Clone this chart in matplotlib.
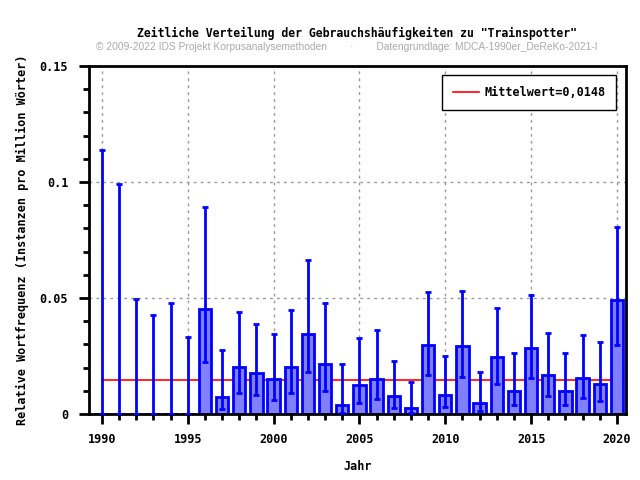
import numpy as np
import matplotlib
matplotlib.use('Agg')
import matplotlib.pyplot as plt
from matplotlib.ticker import MultipleLocator

# Daten
jahre = list(range(1990, 2021))
werte = [0, 0, 0, 0, 0, 0,
         0.0451, 0.0075, 0.0201, 0.0178, 0.0149,
         0.0204, 0.0346, 0.0217, 0.0040, 0.0126,
         0.0152, 0.0079, 0.0027, 0.0299, 0.0083,
         0.0294, 0.0049, 0.0247, 0.0101, 0.0286,
         0.0170, 0.0101, 0.0157, 0.0131, 0.0493]
unten = [0, 0, 0, 0, 0, 0,
         0.0226, 0.0023, 0.0092, 0.0080, 0.0062,
         0.0092, 0.0182, 0.0101, 0.0006, 0.0049,
         0.0066, 0.0027, 0.0004, 0.0169, 0.0032,
         0.0161, 0.0014, 0.0131, 0.0040, 0.0157,
         0.0079, 0.0040, 0.0069, 0.0056, 0.0297]
oben = [0.1138, 0.0991, 0.0497, 0.0428, 0.0480, 0.0333,
        0.0894, 0.0276, 0.0441, 0.0388, 0.0345,
        0.0448, 0.0664, 0.0480, 0.0216, 0.0328,
        0.0362, 0.0228, 0.0138, 0.0526, 0.0250,
        0.0532, 0.0181, 0.0457, 0.0263, 0.0513,
        0.0349, 0.0263, 0.0341, 0.0310, 0.0806]
mittelwert = 0.0148

fig = plt.figure(figsize=(6.4, 4.8), dpi=100)
ax = fig.add_axes([0.139, 0.1375, 0.839, 0.725])

mono = 'DejaVu Sans Mono'

ax.bar(jahre, werte, width=0.72, color='#8080ff', edgecolor='#0000ff', linewidth=2, zorder=2)
w = np.array(werte)
fehler = [w - np.array(unten), np.array(oben) - w]
ax.errorbar(jahre, werte, yerr=fehler, fmt='none', ecolor='#0000ff', elinewidth=2,
            capsize=2.5, capthick=2, zorder=3)

ax.plot([jahre[0], jahre[-1]], [mittelwert, mittelwert], color='red', linewidth=1.2,
        zorder=1, label='Mittelwert=' + ('%.4f' % mittelwert).replace('.', ','))

ax.set_xlim(1989.25, 2020.52)
ax.set_ylim(0, 0.15)
ax.xaxis.set_major_locator(MultipleLocator(5))
ax.xaxis.set_minor_locator(MultipleLocator(1))
ax.yaxis.set_major_locator(MultipleLocator(0.05))
ax.yaxis.set_minor_locator(MultipleLocator(0.01))
ax.set_yticks([0, 0.05, 0.1, 0.15])
ax.set_yticklabels(['0', '0.05', '0.1', '0.15'])
ax.tick_params(which='major', direction='out', length=7, width=2)
ax.tick_params(which='minor', direction='out', length=4, width=2)
for lab in ax.get_xticklabels() + ax.get_yticklabels():
    lab.set_fontfamily(mono)
    lab.set_fontweight('bold')
    lab.set_fontsize(8.5)
ax.tick_params(axis='x', pad=7)
ax.tick_params(axis='y', pad=8)

ax.grid(True, which='major', color='#999999', linestyle=(0, (2, 3)), linewidth=1, zorder=0)
ax.set_axisbelow(True)
for s in ax.spines.values():
    s.set_linewidth(2)

ax.set_xlabel('Jahr', fontfamily=mono, fontweight='bold', fontsize=8.5, labelpad=10)
ax.set_ylabel('Relative Wortfrequenz (Instanzen pro Million Wörter)', fontfamily=mono,
              fontweight='bold', fontsize=8.5, labelpad=8)

fig.text(0.558, 0.931, 'Zeitliche Verteilung der Gebrauchshäufigkeiten zu "Trainspotter"',
         ha='center', va='center', fontfamily=mono, fontweight='bold', fontsize=8.3)
fig.text(0.542, 0.903, '© 2009-2022 IDS Projekt Korpusanalysemethoden        ·        Datengrundlage: MDCA-1990er_DeReKo-2021-I',
         ha='center', va='center', fontfamily='Liberation Sans', fontsize=7.4, color='#aaaaaa')

leg = ax.legend(loc='upper right', fancybox=False, edgecolor='black', framealpha=1,
                prop={'family': mono, 'weight': 'bold', 'size': 8.5},
                handlelength=2.2, handletextpad=0.5, borderpad=0.9,
                bbox_to_anchor=(0.993, 0.99))
leg.get_frame().set_linewidth(1)

fig.savefig('out.png', dpi=100)
